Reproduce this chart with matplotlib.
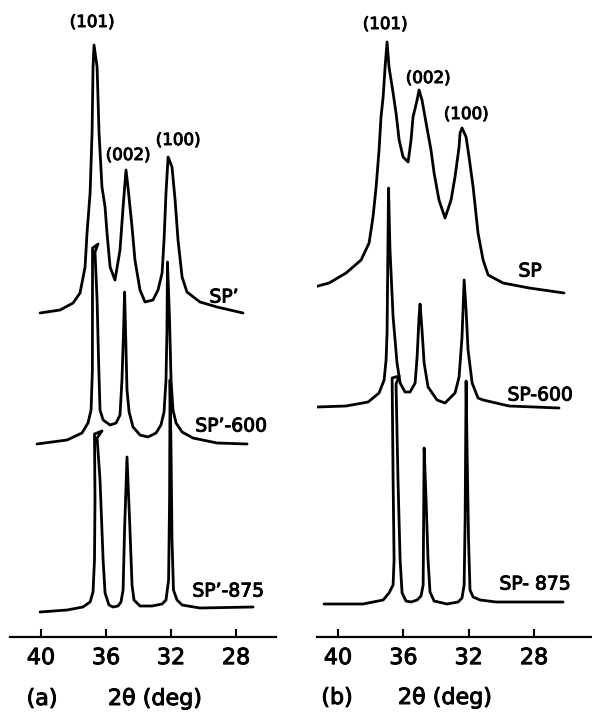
import matplotlib
matplotlib.use("Agg")
import matplotlib.pyplot as plt
import matplotlib.patheffects as pe

# ---------------- data (2theta in degrees, intensity in arbitrary units) ----------------
# Panel (a)
sp1_x = [40.06, 38.83, 38.03, 37.60, 37.29, 37.17, 36.98, 36.86, 36.80, 36.74, 36.55, 36.43,
         36.25, 36.06, 35.94, 35.75, 35.45, 35.14, 34.95, 34.77, 34.65, 34.40, 34.22, 33.91,
         33.60, 33.11, 32.80, 32.55, 32.43, 32.31, 32.18, 31.94, 31.75, 31.57, 31.32, 31.02,
         30.22, 29.17, 27.57]
sp1_y = [0, 3, 10, 20, 46, 80, 120, 180, 246, 268, 246, 180,
         126, 106, 80, 46, 33, 63, 106, 143, 126, 86, 53, 23,
         11, 13, 23, 40, 73, 120, 156, 146, 113, 73, 36, 21,
         11, 6, 0]

sp1_600_x = [40.25, 38.40, 37.48, 37.11, 36.92, 36.84, 36.83, 36.49, 36.68, 36.55, 36.46, 36.37,
             36.18, 35.75, 35.38, 35.14, 35.02, 34.92, 34.86, 34.80, 34.71, 34.58, 34.34, 33.91,
             33.42, 32.92, 32.62, 32.43, 32.31, 32.25, 32.22, 32.09, 32.00, 31.88, 31.69, 31.32,
             30.65, 29.17, 27.32]
sp1_600_y = [0, 4, 11, 21, 34, 74, 196, 200, 192, 144, 84, 34,
             24, 19, 21, 29, 64, 114, 152, 114, 54, 32, 17, 9,
             7, 11, 19, 32, 64, 114, 182, 124, 64, 34, 21, 12,
             6, 1, 0]

sp1_875_x = [40.06, 38.40, 37.42, 36.98, 36.80, 36.71, 36.68, 36.71, 36.25, 36.55, 36.37, 36.18,
             36.06, 35.82, 35.57, 35.26, 35.08, 34.95, 34.86, 34.71, 34.55, 34.40, 34.28, 33.91,
             33.17, 32.55, 32.31, 32.15, 32.09, 32.06, 32.00, 31.94, 31.85, 31.63, 31.32, 30.22,
             26.95]
sp1_875_y = [-1, 1, 4, 9, 19, 51, 111, 177, 180, 173, 131, 51,
             18, 6, 4, 5, 9, 21, 81, 154, 91, 26, 11, 5,
             5, 7, 11, 31, 111, 231, 161, 71, 21, 11, 6, 3,
             4]

# Panel (b)
sp_x = [42.14, 40.55, 39.51, 38.59, 38.10, 37.86, 37.67, 37.49, 37.37, 37.24, 37.12, 37.00,
        36.88, 36.63, 36.45, 36.26, 36.02, 35.71, 35.53, 35.41, 35.16, 35.04, 34.86, 34.61,
        34.31, 34.12, 33.82, 33.45, 33.08, 32.84, 32.59, 32.53, 32.41, 32.16, 31.98, 31.73,
        31.43, 31.12, 30.81, 29.90, 28.30, 26.16]
sp_y = [3, 10, 20, 33, 50, 76, 106, 143, 176, 196, 226, 251,
        226, 200, 180, 153, 136, 131, 153, 176, 193, 203, 193, 170,
        143, 120, 93, 75, 93, 116, 146, 160, 165, 156, 136, 106,
        60, 33, 18, 10, 5, 0]

sp_600_x = [41.29, 39.51, 38.16, 37.49, 37.18, 37.06, 37.00, 36.91, 36.82, 36.63, 36.39, 36.20,
            35.90, 35.59, 35.28, 35.16, 35.04, 34.98, 34.86, 34.73, 34.49, 33.94, 33.45, 32.84,
            32.59, 32.41, 32.28, 32.16, 32.04, 31.79, 31.43, 31.12, 29.53, 26.47]
sp_600_y = [1, 2, 6, 15, 28, 48, 75, 220, 158, 91, 45, 25,
            16, 16, 25, 51, 91, 104, 78, 45, 21, 8, 5, 15,
            31, 71, 128, 98, 58, 25, 10, 8, 2, 0]

sp_875_x = [40.86, 38.47, 37.24, 36.88, 36.63, 36.57, 36.63, 36.69, 36.26, 36.45, 36.33, 36.20,
            36.08, 35.84, 35.53, 35.16, 34.92, 34.79, 34.76, 34.73, 34.61, 34.49, 34.37, 34.12,
            33.33, 32.65, 32.41, 32.28, 32.22, 32.16, 32.10, 32.01, 31.92, 31.73, 31.30, 30.32,
            26.22]
sp_875_y = [-1, -1, 3, 10, 18, 43, 123, 225, 227, 219, 123, 43,
            10, 2, 1, 3, 7, 18, 83, 155, 103, 43, 11, 2,
            -1, 1, 5, 18, 83, 222, 153, 63, 13, 6, 3, 1,
            1]

tick_values = [40, 36, 32, 28]
tick_labels = ["40", "36", "32", "28"]
peak_labels = ["(101)", "(002)", "(100)"]
names_a = ["SP’", "SP’-600", "SP’-875"]
names_b = ["SP", "SP-600", "SP- 875"]

# ---------------- layout / style ----------------
W, H = 592, 715
fig = plt.figure(figsize=(W / 100, H / 100), dpi=100)
fig.patch.set_facecolor("white")

spine_px = 637
bottom = (H - spine_px) / H
height = spine_px / H

ax_a = fig.add_axes([10 / W, bottom, 266 / W, height])
ax_b = fig.add_axes([317 / W, bottom, 275 / W, height])

lw = 2.0
col = "black"
heavy = [pe.withStroke(linewidth=0.7, foreground="black")]

offsets_a = [324, 193, 26]
offsets_b = [344, 229, 34]

series_a = [(sp1_x, sp1_y), (sp1_600_x, sp1_600_y), (sp1_875_x, sp1_875_y)]
series_b = [(sp_x, sp_y), (sp_600_x, sp_600_y), (sp_875_x, sp_875_y)]

for ax, series, offs in [(ax_a, series_a, offsets_a), (ax_b, series_b, offsets_b)]:
    for (xs, ys), off in zip(series, offs):
        ax.plot(xs, [v + off for v in ys], color=col, lw=lw,
                solid_joinstyle="round", solid_capstyle="round")
    ax.set_ylim(0, spine_px)
    for s in ["top", "right", "left"]:
        ax.spines[s].set_visible(False)
    ax.spines["bottom"].set_linewidth(1.6)
    ax.set_yticks([])
    ax.set_xticks(tick_values)
    ax.set_xticklabels(tick_labels)
    ax.tick_params(axis="x", direction="in", length=6, width=1.5, pad=8,
                   labelsize=16)
    for t in ax.get_xticklabels():
        t.set_path_effects(heavy)
    ax.patch.set_alpha(0)

ax_a.set_xlim(41.91, 25.54)
ax_b.set_xlim(41.29, 24.45)

# peak labels
pk_fs = 12
for ax, pos in [(ax_a, [(36.86, 615), (34.65, 482), (31.57, 497)]),
                (ax_b, [(37.12, 613), (34.49, 559), (32.16, 523)])]:
    for lab, (px, py) in zip(peak_labels, pos):
        ax.text(px, py, lab, ha="center", va="center", fontsize=pk_fs,
                path_effects=heavy)

# sample labels
nm_fs = 13.5
for ax, names, pos in [(ax_a, names_a, [(28.74, 340), (28.31, 211), (28.49, 46)]),
                       (ax_b, names_b, [(28.24, 366), (27.63, 242), (27.94, 53)])]:
    for lab, (px, py) in zip(names, pos):
        ax.text(px, py, lab, ha="center", va="center", fontsize=nm_fs,
                path_effects=heavy)

# bottom captions
cap_fs = 16
for x, y, s in [(42, 699, "(a)"), (155, 699, "2θ (deg)"),
                (337, 698, "(b)"), (445, 698, "2θ (deg)")]:
    fig.text(x / W, 1 - y / H, s, ha="center", va="center", fontsize=cap_fs,
             path_effects=heavy)

fig.savefig("out.png", dpi=100)
